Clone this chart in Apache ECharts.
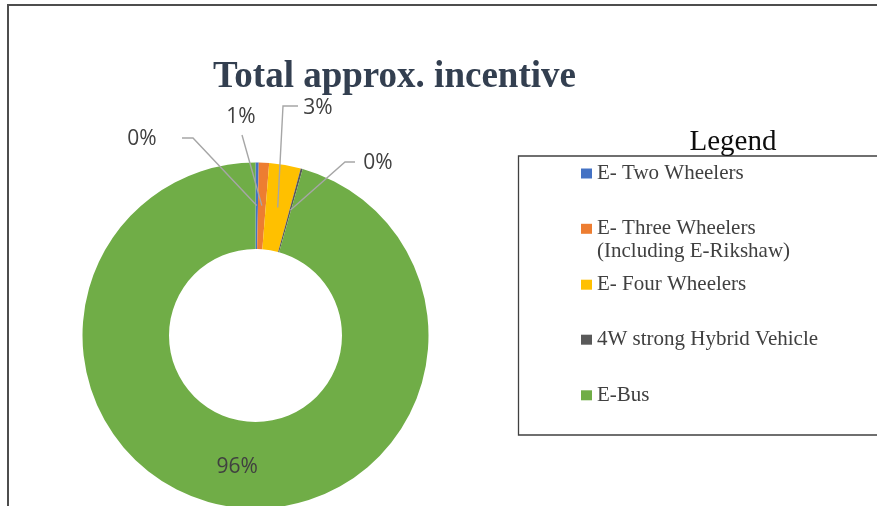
<!DOCTYPE html>
<html>
<head>
<meta charset="utf-8">
<script src="https://cdn.jsdelivr.net/npm/echarts@6/dist/echarts.min.js"></script>
<style>
  html, body { margin: 0; padding: 0; background: #ffffff; }
  #chart { width: 877px; height: 506px; }
</style>
</head>
<body>
<div id="chart"></div>
<script>
// Incentive share per vehicle segment (percent of total)
const categories = [
  'E- Two Wheelers',
  'E- Three Wheelers (Including E-Rikshaw)',
  'E- Four Wheelers',
  '4W strong Hybrid Vehicle',
  'E-Bus'
];
const shares = [0.30, 0.96, 2.95, 0.19, 95.60];
const sliceColors = ['#4472C4', '#ED7D31', '#FFC000', '#595959', '#70AD47'];

// Layout constants
const CENTER = [255.5, 335.5];
const RING = [86.5, 173];
const LEADER_RADIUS = 130;          // leader lines start in the middle of the ring
const SERIF = '"Liberation Serif", "Times New Roman", serif';
const SANS = '"Open Sans", "Noto Sans", sans-serif';
const TEXT_GREY = '#404040';

// Where the outside callouts sit (label centre, bend, end next to label)
const callouts = {
  0: { label: [142, 139], elbow: [193, 138], end: [182, 138] },
  1: { label: [241, 117], elbow: null,       end: [242, 135] },
  2: { label: [318, 108], elbow: [283, 106], end: [298, 106] },
  3: { label: [378, 163], elbow: [345, 162], end: [355, 162] }
};

// Legend rows (vertical centres of the swatches)
const legendRowCenters = [173.5, 228.8, 284.7, 339.7, 395.3];

const chart = echarts.init(document.getElementById('chart'), null, { renderer: 'canvas' });

const ringData = categories.map((name, i) => ({
  name: name,
  value: shares[i],
  itemStyle: { color: sliceColors[i] },
  label: { show: i === categories.length - 1 }
}));

const calloutData = categories.map((name, i) => ({
  name: name,
  value: shares[i],
  label: { show: callouts[i] !== undefined },
  labelLine: { show: callouts[i] !== undefined }
}));

const legendText = {
  fontFamily: SERIF,
  fontSize: 21,
  color: TEXT_GREY,
  lineHeight: 23
};

const legends = categories.map((name, i) => {
  const lg = {
    data: [name],
    orient: 'vertical',
    left: 581,
    top: legendRowCenters[i] - 11.5,
    padding: 0,
    itemWidth: 11,
    itemHeight: 10,
    icon: 'rect',
    selectedMode: false,
    textStyle: Object.assign({}, legendText)
  };
  if (name.indexOf('(') > 0) {
    // two-line entry: swatch stays level with the first line
    const cut = name.indexOf(' (');
    const first = name.slice(0, cut);
    const second = name.slice(cut + 1);
    lg.formatter = () => '{a|' + first + '}\n{a|' + second + '}';
    lg.top = legendRowCenters[i] - 34.5;
    lg.textStyle.padding = [23, 0, 0, 0];
    lg.textStyle.rich = { a: Object.assign({}, legendText) };
  }
  return lg;
});

const option = {
  animation: false,
  backgroundColor: '#ffffff',
  title: [
    {
      text: 'Total approx. incentive',
      left: 394.5,
      top: 57,
      textAlign: 'center',
      padding: 0,
      textStyle: {
        fontFamily: SERIF,
        fontSize: 37,
        fontWeight: 'bold',
        color: '#333F50',
        lineHeight: 40
      }
    },
    {
      text: 'Legend',
      left: 733,
      top: 127,
      textAlign: 'center',
      padding: 0,
      textStyle: {
        fontFamily: SERIF,
        fontSize: 29,
        fontWeight: 'normal',
        color: '#0D0D0D',
        lineHeight: 30
      }
    }
  ],
  legend: legends,
  graphic: [
    {
      type: 'rect',
      silent: true,
      shape: { x: 8, y: 5, width: 1000, height: 800 },
      style: { fill: 'none', stroke: '#4D4D4D', lineWidth: 2 }
    },
    {
      type: 'rect',
      silent: true,
      z: -1,
      shape: { x: 518.5, y: 156, width: 600, height: 279 },
      style: { fill: 'none', stroke: '#404040', lineWidth: 1.3 }
    }
  ],
  series: [
    {
      name: 'Total approx. incentive',
      type: 'pie',
      center: CENTER,
      radius: RING,
      startAngle: 90,
      clockwise: true,
      avoidLabelOverlap: false,
      percentPrecision: 0,
      silent: true,
      itemStyle: { borderWidth: 0 },
      label: {
        position: 'inside',
        formatter: '{d}%',
        fontFamily: SANS,
        fontSize: 21,
        color: TEXT_GREY
      },
      labelLine: { show: false },
      emphasis: { disabled: true },
      data: ringData,
      z: 2
    },
    {
      name: 'callouts',
      type: 'pie',
      center: CENTER,
      radius: [0, LEADER_RADIUS],
      startAngle: 90,
      clockwise: true,
      avoidLabelOverlap: false,
      percentPrecision: 0,
      silent: true,
      itemStyle: { color: 'rgba(0,0,0,0)', borderWidth: 0 },
      label: {
        position: 'outside',
        formatter: '{d}%',
        fontFamily: SANS,
        fontSize: 21,
        color: TEXT_GREY
      },
      labelLine: {
        show: true,
        length: 10,
        length2: 10,
        lineStyle: { color: '#A6A6A6', width: 1.4 }
      },
      labelLayout: function (p) {
        const c = callouts[p.dataIndex];
        if (!c || !p.labelLinePoints) return {};
        const start = p.labelLinePoints[0];
        return {
          x: c.label[0],
          y: c.label[1],
          align: 'center',
          verticalAlign: 'middle',
          labelLinePoints: [start, c.elbow || c.end, c.end]
        };
      },
      emphasis: { disabled: true },
      data: calloutData,
      z: 3
    }
  ]
};

chart.setOption(option);
</script>
</body>
</html>
